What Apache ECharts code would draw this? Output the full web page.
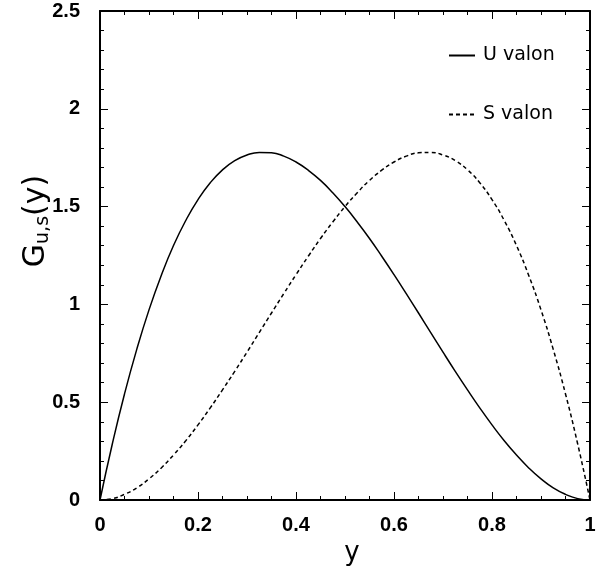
<!DOCTYPE html>
<html>
<head>
<meta charset="utf-8">
<script src="https://cdn.jsdelivr.net/npm/echarts@6/dist/echarts.min.js"></script>
<style>
  html, body { margin: 0; padding: 0; background: #fff; }
  #main { width: 608px; height: 566px; }
</style>
</head>
<body>
<div id="main"></div>
<script>
var xValues = [0, 0.025, 0.05, 0.075, 0.1, 0.125, 0.15, 0.175, 0.2, 0.225, 0.25, 0.275, 0.3, 0.325, 0.35, 0.375, 0.4,
  0.425, 0.45, 0.475, 0.5, 0.525, 0.55, 0.575, 0.6, 0.625, 0.65, 0.675, 0.7, 0.725, 0.75, 0.775, 0.8,
  0.825, 0.85, 0.875, 0.9, 0.925, 0.95, 0.975, 1];
var uValon = [0, 0.285, 0.542, 0.770, 0.972, 1.148, 1.301, 1.429, 1.536, 1.622, 1.688, 1.735, 1.764, 1.777, 1.775,
  1.758, 1.728, 1.686, 1.634, 1.571, 1.5, 1.421, 1.337, 1.246, 1.152, 1.055, 0.956, 0.856, 0.756, 0.658, 0.563,
  0.471, 0.384, 0.303, 0.230, 0.164, 0.108, 0.062, 0.029, 0.007, 0];
var sValon = [0, 0.007, 0.029, 0.062, 0.108, 0.164, 0.230, 0.303, 0.384, 0.471, 0.563, 0.658, 0.756, 0.856, 0.956,
  1.055, 1.152, 1.246, 1.337, 1.421, 1.5, 1.571, 1.634, 1.686, 1.728, 1.758, 1.775, 1.777, 1.764, 1.735, 1.688,
  1.622, 1.536, 1.429, 1.301, 1.148, 0.972, 0.770, 0.542, 0.285, 0];

function pairs(xs, ys) {
  return xs.map(function (x, i) { return [x, ys[i]]; });
}

var myChart = echarts.init(document.getElementById('main'));

var tickFont = { fontFamily: 'Liberation Sans', fontWeight: 'bold', fontSize: 20, color: '#000' };
var tickLine = { color: '#000', width: 1 };

function xAxis(pos, labels) {
  return {
    type: 'value', position: pos, min: 0, max: 1, interval: 0.2,
    axisLine: { show: true, onZero: false, lineStyle: { color: '#000', width: 2 } },
    axisTick: { show: true, inside: true, length: 8, lineStyle: tickLine },
    minorTick: { show: true, splitNumber: 4, length: 4, lineStyle: tickLine },
    axisLabel: labels ? Object.assign({ margin: 15 }, tickFont) : { show: false },
    splitLine: { show: false }
  };
}
function yAxis(pos, labels) {
  return {
    type: 'value', position: pos, min: 0, max: 2.5, interval: 0.5,
    axisLine: { show: true, onZero: false, lineStyle: { color: '#000', width: 2 } },
    axisTick: { show: true, inside: true, length: 8, lineStyle: tickLine },
    minorTick: { show: true, splitNumber: 5, length: 4, lineStyle: tickLine },
    axisLabel: labels ? Object.assign({ margin: 20 }, tickFont) : { show: false },
    splitLine: { show: false }
  };
}

var bx = xAxis('bottom', true);
bx.name = 'y';
bx.nameLocation = 'middle';
bx.nameGap = 34;
bx.nameTextStyle = { fontFamily: 'DejaVu Sans', fontSize: 26, color: '#000', padding: [0, 0, 0, 14] };

var option = {
  animation: false,
  backgroundColor: '#fff',
  grid: { left: 100, top: 11, right: 18, bottom: 66, containLabel: false, outerBoundsMode: 'none' },
  legend: {
    orient: 'vertical',
    left: 443,
    top: 41,
    itemWidth: 26,
    itemHeight: 16,
    itemGap: 40,
    itemStyle: { opacity: 0 },
    textStyle: { fontFamily: 'DejaVu Sans', fontSize: 19, color: '#000', padding: [0, 0, 0, 3] },
    data: ['U valon', 'S valon']
  },
  graphic: [{
    type: 'text',
    x: 36,
    y: 221,
    rotation: Math.PI / 2,
    style: {
      text: '{g|G}{s|u,s}{g|(y)}',
      align: 'center',
      verticalAlign: 'middle',
      rich: {
        g: { fontFamily: 'DejaVu Sans', fontSize: 30, fill: '#000' },
        s: { fontFamily: 'DejaVu Sans', fontSize: 19, fill: '#000', padding: [14, 0, 0, 0] }
      }
    }
  }],
  xAxis: [bx, xAxis('top', false)],
  yAxis: [yAxis('left', true), yAxis('right', false)],
  series: [
    {
      name: 'U valon', type: 'line', smooth: true, symbol: 'none',
      lineStyle: { color: '#000', width: 1.5, type: 'solid' },
      itemStyle: { color: '#000' },
      data: pairs(xValues, uValon)
    },
    {
      name: 'S valon', type: 'line', smooth: true, symbol: 'none',
      lineStyle: { color: '#000', width: 1.5, type: [4, 3] },
      itemStyle: { color: '#000' },
      data: pairs(xValues, sValon)
    }
  ]
};

myChart.setOption(option);
</script>
</body>
</html>
